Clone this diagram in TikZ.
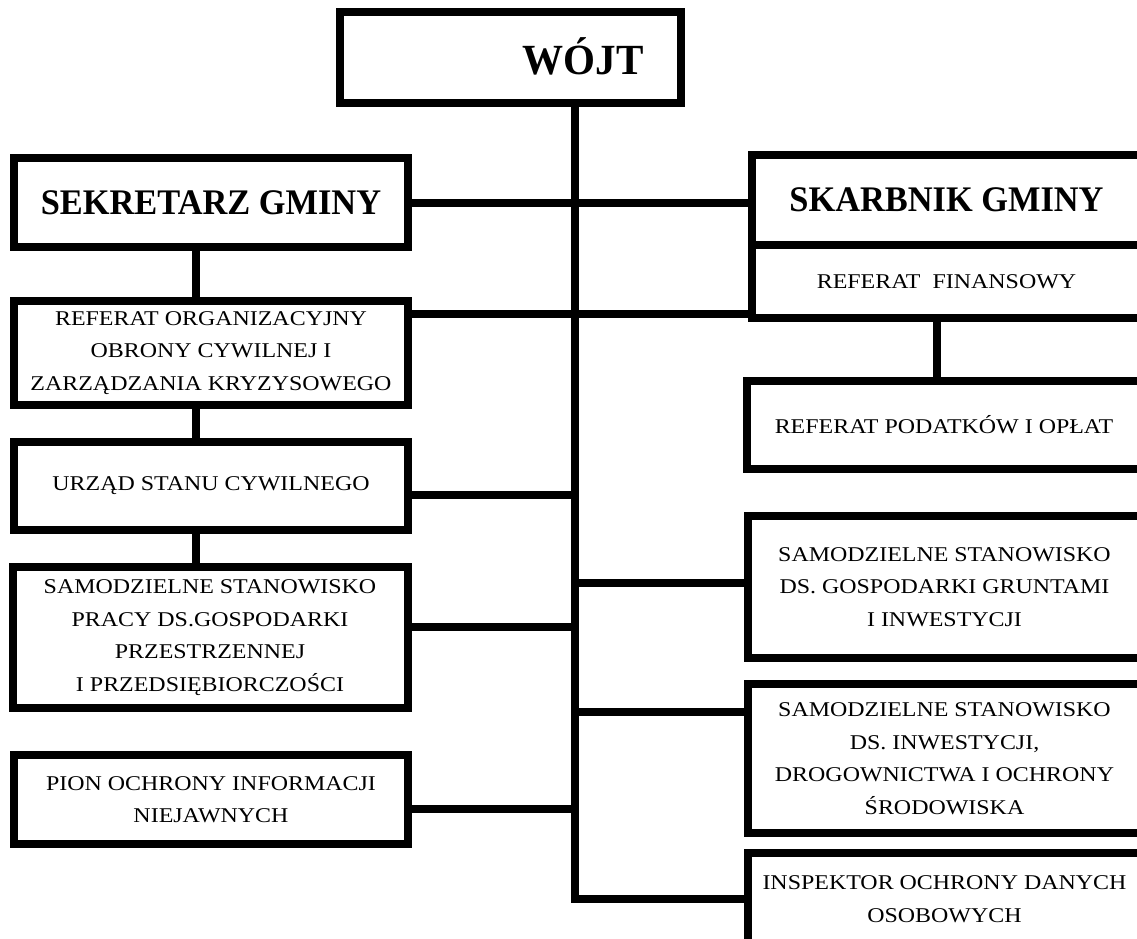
\documentclass[tikz,border=0pt]{standalone}
\usepackage{fontspec}
\setmainfont{Liberation Serif}[FakeStretch=1.14]
\newfontfamily\headfont{Liberation Serif}[FakeStretch=0.955]
\usepackage{tikz}

\tikzset{
  unit/.style={draw, line width=8pt, rectangle, inner sep=0pt, align=center,
    font=\fontsize{21}{32.5}\selectfont},
  head/.style={unit, font=\fontsize{36}{40}\headfont\bfseries},
  link/.style={line width=8pt},
}

\begin{document}
\begin{tikzpicture}[x=1pt, y=-1pt]
\useasboundingbox (0,0) rectangle (1137,939);
% head of the office
\node[unit, minimum width=341pt, minimum height=91pt] (wojt) at (510.5,57.5) {};
\node[anchor=base, font=\fontsize{43}{45}\headfont\bfseries] (wojtName) at (583,75) {WÓJT};

% left column
\node[head, minimum width=394pt, minimum height=89pt] (sekretarz) at (211,202.5) {SEKRETARZ GMINY};
\node[unit, minimum width=394pt, minimum height=104pt] (refOrg) at (211,353)
  {REFERAT ORGANIZACYJNY\\OBRONY CYWILNEJ I\\ZARZĄDZANIA KRYZYSOWEGO};
\node[unit, minimum width=394pt, minimum height=88pt] (usc) at (211,486) {URZĄD STANU CYWILNEGO};
\node[unit, minimum width=395pt, minimum height=141pt] (samLeft) at (210,637.5)
  {SAMODZIELNE STANOWISKO\\PRACY DS.GOSPODARKI\\PRZESTRZENNEJ\\I PRZEDSIĘBIORCZOŚCI};
\node[unit, minimum width=394pt, minimum height=89pt] (pion) at (211,799.5)
  {PION OCHRONY INFORMACJI\\NIEJAWNYCH};

% right column
\node[head, minimum width=389pt, minimum height=90pt] (skarbnik) at (946.5,200) {SKARBNIK GMINY};
\node[unit, minimum width=389pt, minimum height=73pt] (refFin) at (946.5,281.5) {REFERAT\ \ FINANSOWY};
\node[unit, minimum width=394pt, minimum height=88pt] (podatki) at (944,425) {REFERAT PODATKÓW I OPŁAT};
\node[unit, minimum width=393pt, minimum height=142pt] (samGrunty) at (944.5,587)
  {SAMODZIELNE STANOWISKO\\DS. GOSPODARKI GRUNTAMI\\I INWESTYCJI};
\node[unit, minimum width=393pt, minimum height=149pt] (samInw) at (944.5,758.5)
  {SAMODZIELNE STANOWISKO\\DS. INWESTYCJI,\\DROGOWNICTWA I OCHRONY\\ŚRODOWISKA};
\node[unit, minimum width=393pt, minimum height=92pt] (inspektor) at (944.5,899)
  {INSPEKTOR OCHRONY DANYCH\\OSOBOWYCH};

% spines and rows of the links
\coordinate (trunk) at (575,0);
\coordinate (leftSpine) at (196,0);
\coordinate (rightSpine) at (937,0);
\coordinate (finRow) at (0,314);
\coordinate (uscRow) at (0,495);
\coordinate (samRow) at (0,627);
\coordinate (pionRow) at (0,809);
\coordinate (gruntRow) at (0,583);
\coordinate (inwRow) at (0,712);

\draw[link] (wojt.south -| trunk) |- (inspektor.west);
\draw[link] (sekretarz.east) -- (sekretarz.east -| skarbnik.west);
\draw[link] (refOrg.east |- finRow) -- (refFin.west |- finRow);
\draw[link] (usc.east |- uscRow) -- (trunk |- uscRow);
\draw[link] (samLeft.east |- samRow) -- (trunk |- samRow);
\draw[link] (pion.east |- pionRow) -- (trunk |- pionRow);
\draw[link] (trunk |- gruntRow) -- (samGrunty.west |- gruntRow);
\draw[link] (trunk |- inwRow) -- (samInw.west |- inwRow);

\draw[link] (sekretarz.south -| leftSpine) -- (refOrg.north -| leftSpine);
\draw[link] (refOrg.south -| leftSpine) -- (usc.north -| leftSpine);
\draw[link] (usc.south -| leftSpine) -- (samLeft.north -| leftSpine);
\draw[link] (refFin.south -| rightSpine) -- (podatki.north -| rightSpine);
\end{tikzpicture}
\end{document}
